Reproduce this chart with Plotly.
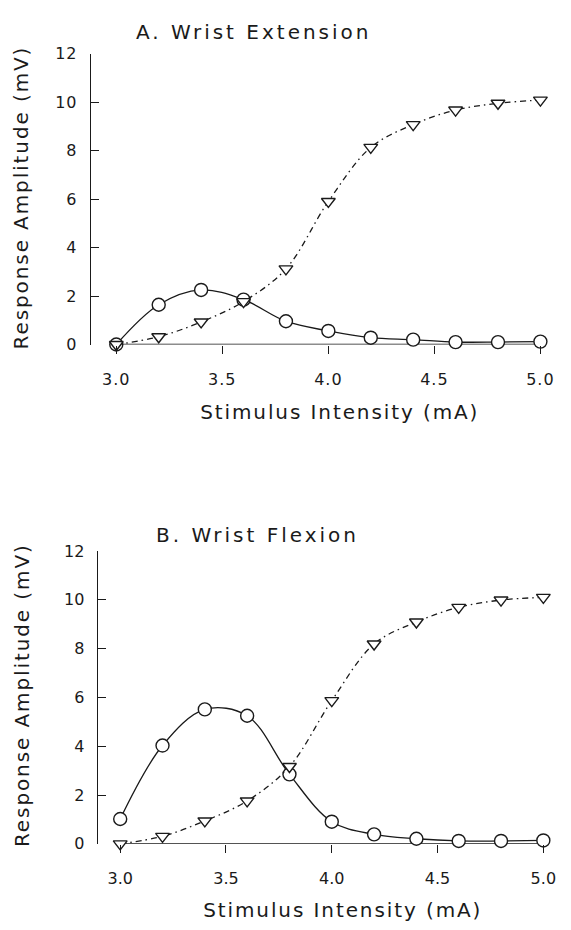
import json
import plotly.graph_objects as go

# Data
stim = [3.0, 3.2, 3.4, 3.6, 3.8, 4.0, 4.2, 4.4, 4.6, 4.8, 5.0]
ext_circle = [0.0, 1.64, 2.25, 1.85, 0.96, 0.56, 0.28, 0.20, 0.10, 0.10, 0.12]
ext_triangle = [0.0, 0.32, 0.93, 1.77, 3.12, 5.90, 8.13, 9.07, 9.67, 9.95, 10.08]
flex_circle = [1.02, 4.03, 5.51, 5.25, 2.85, 0.91, 0.39, 0.21, 0.12, 0.12, 0.14]
flex_triangle = [0.0, 0.31, 0.94, 1.76, 3.17, 5.87, 8.19, 9.09, 9.69, 9.99, 10.10]

yticks = [0, 2, 4, 6, 8, 10, 12]
xticks = [3.0, 3.5, 4.0, 4.5, 5.0]
xtick_text = ["3.0", "3.5", "4.0", "4.5", "5.0"]

panel_titles = ["A. Wrist Extension", "B. Wrist Flexion"]
x_title = "Stimulus Intensity (mA)"
y_title = "Response Amplitude (mV)"

FONT = "DejaVu Sans"
INK = "#1a1a1a"
W, H = 571, 930

fig = go.Figure()

panels = [
    dict(circ=ext_circle, tri=ext_triangle, xa="x", ya="y"),
    dict(circ=flex_circle, tri=flex_triangle, xa="x2", ya="y2"),
]

for p in panels:
    fig.add_trace(go.Scatter(
        x=stim, y=p["circ"], xaxis=p["xa"], yaxis=p["ya"],
        mode="lines+markers",
        line=dict(color=INK, width=1.3, shape="spline", smoothing=1.0),
        marker=dict(symbol="circle", size=13, color="white",
                    line=dict(color=INK, width=1.4)),
        cliponaxis=False, showlegend=False,
    ))
    fig.add_trace(go.Scatter(
        x=stim, y=p["tri"], xaxis=p["xa"], yaxis=p["ya"],
        mode="lines+markers",
        line=dict(color=INK, width=1.3, shape="spline", smoothing=1.0,
                  dash="6px,4px,1.5px,4px"),
        marker=dict(symbol="triangle-down", size=12, color="white",
                    line=dict(color=INK, width=1.4)),
        cliponaxis=False, showlegend=False,
    ))


def px_x(v):
    return v / W


def px_y(v):
    return 1 - v / H


tickfont = dict(family=FONT, size=16, color=INK)

common_x = dict(
    tickvals=xticks, ticktext=xtick_text, ticks="outside", ticklen=8,
    tickwidth=1.3, tickcolor=INK, showline=False, showgrid=False,
    zeroline=False, tickfont=tickfont, ticklabelstandoff=12,
)
common_y = dict(
    tickvals=yticks, ticks="inside", ticklen=8, tickwidth=1.3,
    tickcolor=INK, showline=True, linecolor=INK, linewidth=1.3,
    showgrid=False, zeroline=False, range=[0, 12], tickfont=tickfont,
    ticklabelstandoff=9,
)

fig.update_layout(
    width=W, height=H,
    margin=dict(l=0, r=0, t=0, b=0),
    paper_bgcolor="white", plot_bgcolor="white",
    font=dict(family=FONT, color=INK),
    xaxis=dict(domain=[px_x(93), px_x(553)], range=[3 - 26 / 217, 5.0],
               anchor="y", **common_x),
    yaxis=dict(domain=[px_y(342.5), px_y(45.5)], anchor="x", **common_y),
    xaxis2=dict(domain=[px_x(100), px_x(556)], range=[3 - 23 / 216.5, 5.0],
                anchor="y2", **common_x),
    yaxis2=dict(domain=[px_y(852.3), px_y(553.3)], anchor="x2", **common_y),
)

# x axis baselines spanning the data range
for xa, ya in (("x", "y"), ("x2", "y2")):
    fig.add_shape(type="line", xref=xa, yref=ya, x0=stim[0], x1=stim[-1],
                  y0=0, y1=0, line=dict(color=INK, width=1.3), layer="below")

ann_font_title = dict(family=FONT, size=20, color=INK)
ann_font_axis = dict(family=FONT, size=20, color=INK)

annotations = [
    dict(text=panel_titles[0], x=px_x(260), y=px_y(23), font=ann_font_title),
    dict(text=panel_titles[1], x=px_x(263), y=px_y(537), font=ann_font_title),
    dict(text=x_title, x=px_x(347), y=px_y(411), font=ann_font_axis),
    dict(text=x_title, x=px_x(350), y=px_y(920), font=ann_font_axis),
    dict(text=y_title, x=px_x(22), y=px_y(192), font=ann_font_axis, textangle=-90),
    dict(text=y_title, x=px_x(22), y=px_y(700), font=ann_font_axis, textangle=-90),
]
for a in annotations:
    fig.add_annotation(xref="paper", yref="paper", showarrow=False,
                       xanchor="center", yanchor="middle", **a)

# widen the letter spacing like the original typeset figure
spacing = {t: 3.0 for t in panel_titles}
spacing[x_title] = 1.9
spacing[y_title] = 1.9
post = """
(function(){
  var gd = document.getElementById('{plot_id}');
  var sp = %s;
  function apply(){
    gd.querySelectorAll('.annotation-text').forEach(function(t){
      var s = sp[t.textContent];
      if (s !== undefined) { t.style.letterSpacing = s + 'px'; }
    });
    gd.querySelectorAll('.xtick text, .ytick text').forEach(function(t){
      t.style.letterSpacing = '1px';
    });
  }
  apply();
  if (gd.on) { gd.on('plotly_afterplot', apply); }
})();
""" % json.dumps(spacing)

fig.write_html("out.html", post_script=post)
